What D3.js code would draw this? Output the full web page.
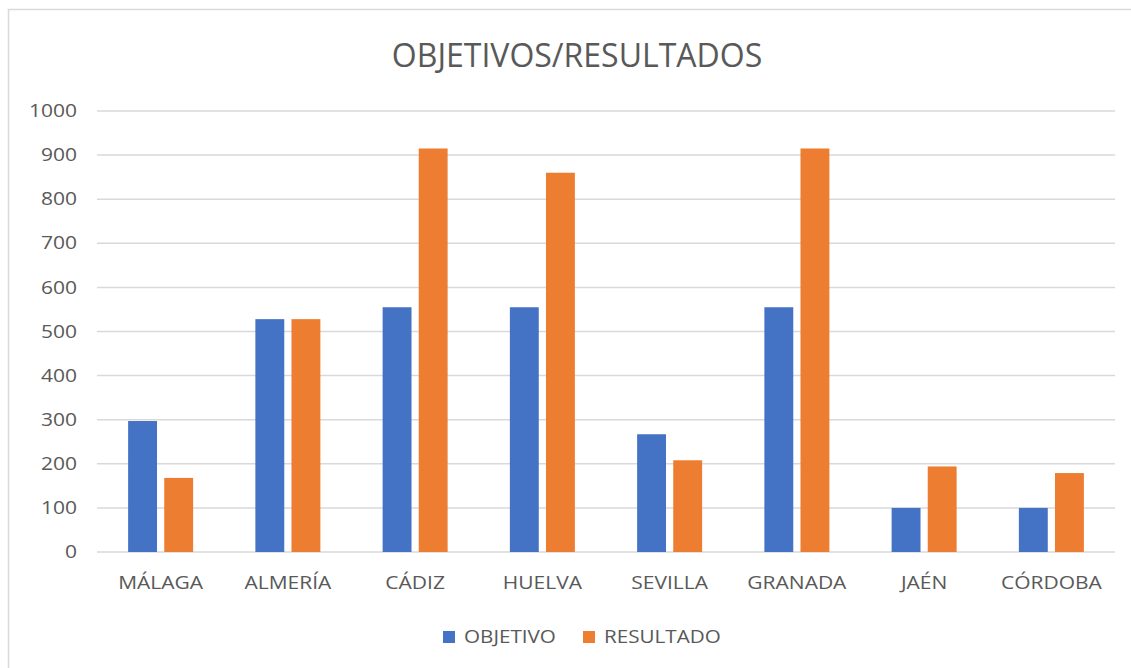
<!DOCTYPE html>
<html>
<head>
<meta charset="utf-8">
<script src="https://cdn.jsdelivr.net/npm/d3@7"></script>
<style>
  body { margin: 0; background: #fff; }
  text { font-family: "Open Sans", "Noto Sans", sans-serif; fill: #595959; }
</style>
</head>
<body>
<div id="chart"></div>
<script>
const provincias = ["MÁLAGA", "ALMERÍA", "CÁDIZ", "HUELVA", "SEVILLA", "GRANADA", "JAÉN", "CÓRDOBA"];
const objetivo = [297, 528, 555, 555, 267, 555, 100, 100];
const resultado = [168, 528, 915, 860, 208, 915, 194, 179];
const series = ["OBJETIVO", "RESULTADO"];
const yTicks = [0, 100, 200, 300, 400, 500, 600, 700, 800, 900, 1000];

const width = 1131, height = 668;
const margins = { top: 111, bottom: 116, left: 97, right: 16 };
const colors = ["#4472C4", "#ED7D31"];
const labelSize = "17.5px";
const stretch = "scale(1.2,1)";

const data = provincias.map((p, i) => ({ p, values: [objetivo[i], resultado[i]] }));

const svg = d3.select("#chart").append("svg")
  .attr("width", width)
  .attr("height", height);

// chart frame
svg.append("rect")
  .attr("x", 8.5).attr("y", 9.5)
  .attr("width", 1140).attr("height", 700)
  .attr("fill", "none")
  .attr("stroke", "#d9d9d9")
  .attr("stroke-width", 1.5);

const yScale = d3.scaleLinear()
  .domain([0, 1000])
  .range([height - margins.bottom, margins.top]);

const xScale = d3.scaleBand()
  .domain(provincias)
  .range([margins.left, width - margins.right]);

const inner = d3.scaleBand()
  .domain(series)
  .range([xScale.bandwidth() / 2 - 32.5, xScale.bandwidth() / 2 + 32.5])
  .paddingInner(0.2);

// gridlines
svg.append("g")
  .selectAll("line")
  .data(yTicks)
  .join("line")
  .attr("x1", margins.left)
  .attr("x2", width - margins.right)
  .attr("y1", d => yScale(d))
  .attr("y2", d => yScale(d))
  .attr("stroke", "#d9d9d9")
  .attr("stroke-width", 1.5);

// y labels
const yAxis = d3.axisLeft(yScale).tickValues(yTicks).tickFormat(d3.format("d")).tickSize(0).tickPadding(0);
svg.append("g")
  .attr("transform", `translate(${margins.left - 20}, 0)`)
  .call(yAxis)
  .call(g => g.select(".domain").remove())
  .selectAll("text")
  .style("font-size", labelSize)
  .style("fill", "#595959")
  .attr("transform", stretch);

// bars
const groups = svg.append("g")
  .selectAll("g")
  .data(data)
  .join("g")
  .attr("transform", d => `translate(${xScale(d.p)}, 0)`);

groups.selectAll("rect")
  .data(d => d.values.map((v, i) => ({ s: series[i], v, i })))
  .join("rect")
  .attr("x", d => inner(d.s))
  .attr("width", inner.bandwidth())
  .attr("y", d => yScale(d.v))
  .attr("height", d => yScale(0) - yScale(d.v))
  .attr("fill", d => colors[d.i]);

// x labels
const xAxis = d3.axisBottom(xScale).tickSize(0).tickPadding(0);
svg.append("g")
  .attr("transform", `translate(0, ${yScale(0) + 25})`)
  .call(xAxis)
  .call(g => g.select(".domain").remove())
  .selectAll("text")
  .style("font-size", labelSize)
  .style("fill", "#595959")
  .attr("transform", stretch);

// title
svg.append("text")
  .attr("x", 577)
  .attr("y", 67)
  .attr("text-anchor", "middle")
  .style("font-size", "32px")
  .text("OBJETIVOS/RESULTADOS");

// legend
const legendX = [443, 583];
const legend = svg.append("g")
  .selectAll("g")
  .data(series)
  .join("g")
  .attr("transform", (d, i) => `translate(${legendX[i]}, 631)`);

legend.append("rect")
  .attr("width", 12).attr("height", 12)
  .attr("fill", (d, i) => colors[i]);

legend.append("g")
  .attr("transform", "translate(21, 12)")
  .append("text")
  .attr("transform", "scale(1.18,1)")
  .style("font-size", labelSize)
  .text(d => d);
</script>
</body>
</html>
